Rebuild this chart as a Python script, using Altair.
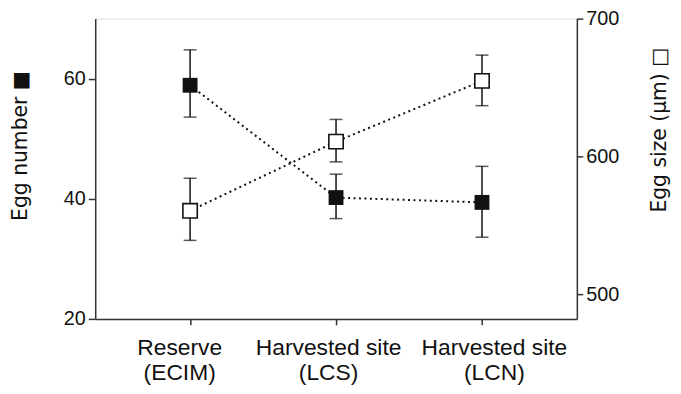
import altair as alt
import pandas as pd

sites = ["Reserve\n(ECIM)", "Harvested site\n(LCS)", "Harvested site\n(LCN)"]
egg_number = [58.9, 40.2, 39.4]
egg_number_lo = [53.6, 36.7, 33.6]
egg_number_hi = [64.8, 44.1, 45.4]
egg_size = [560.5, 610.7, 654.8]
egg_size_lo = [539.0, 596.0, 636.8]
egg_size_hi = [584.1, 626.8, 673.5]

df = pd.DataFrame({
    "site": sites,
    "n": egg_number, "n_lo": egg_number_lo, "n_hi": egg_number_hi,
    "s": egg_size, "s_lo": egg_size_lo, "s_hi": egg_size_hi,
})

FONT = "Liberation Sans"
TFONT = "DejaVu Sans"
AX = "#333333"
INK = "#111111"

label_shift = {
    "condition": [
        {"test": "indexof(datum.value, 'ECIM') >= 0", "value": -11},
        {"test": "indexof(datum.value, 'LCS') >= 0", "value": -8},
    ],
    "value": 12,
}

x = alt.X("site:N", sort=sites, title=None,
          scale=alt.Scale(type="point", padding=0.65),
          axis=alt.Axis(labelAngle=0, labelExpr="split(datum.label, '\\n')",
                        labelFontSize=23, labelLineHeight=25, labelPadding=12,
                        labelOffset=label_shift,
                        labelColor=INK, tickSize=6, tickColor=AX, domainColor=AX,
                        domainWidth=1.5, tickWidth=1.5, labelFont=FONT))

ny = alt.Scale(domain=[20, 70], nice=False, zero=False)
sy = alt.Scale(domain=[482, 700], nice=False, zero=False)

base = alt.Chart(df)

n_axis = alt.Axis(orient="left", values=[20, 40, 60], title="Egg number  ■",
                  titleAngle=270, titleX=-75, titleY=128, titleAlign="center",
                  titleBaseline="middle", titleFontSize=20.5, titleFontWeight="normal",
                  titleColor=INK, titleFont=TFONT, labelFont=FONT,
                  labelFontSize=20, labelColor=INK, labelPadding=3, tickSize=7,
                  tickColor=AX, domainColor=AX, domainWidth=1.5, tickWidth=1.5, grid=False)
s_axis = alt.Axis(orient="right", values=[500, 600, 700], title="Egg size (µm)  □",
                  titleAngle=270, titleX=83.5, titleY=112, titleAlign="center",
                  titleBaseline="middle", titleFontSize=20.5, titleFontWeight="normal",
                  titleColor=INK, titleFont=TFONT, labelFont=FONT,
                  labelFontSize=20, labelColor=INK, labelPadding=3, tickSize=6,
                  tickColor=AX, domainColor=AX, domainWidth=1.5, tickWidth=1.5, grid=False)

n_line = base.mark_line(color=INK, strokeWidth=2, strokeDash=[2, 3.5]).encode(
    x=x, y=alt.Y("n:Q", scale=ny, axis=n_axis))
n_rule = base.mark_rule(color=INK, strokeWidth=1.5).encode(
    x=x, y=alt.Y("n_lo:Q", scale=ny, axis=n_axis), y2="n_hi:Q")
n_cap_lo = base.mark_tick(color=INK, size=13, thickness=1.5).encode(
    x=x, y=alt.Y("n_lo:Q", scale=ny, axis=n_axis))
n_cap_hi = base.mark_tick(color=INK, size=13, thickness=1.5).encode(
    x=x, y=alt.Y("n_hi:Q", scale=ny, axis=n_axis))
n_pts = base.mark_square(size=225, filled=True, color=INK, opacity=1).encode(
    x=x, y=alt.Y("n:Q", scale=ny, axis=n_axis))
left = alt.layer(n_line, n_rule, n_cap_lo, n_cap_hi, n_pts)

s_line = base.mark_line(color=INK, strokeWidth=2, strokeDash=[2, 3.5]).encode(
    x=x, y=alt.Y("s:Q", scale=sy, axis=s_axis))
s_rule = base.mark_rule(color=INK, strokeWidth=1.5).encode(
    x=x, y=alt.Y("s_lo:Q", scale=sy, axis=s_axis), y2="s_hi:Q")
s_cap_lo = base.mark_tick(color=INK, size=13, thickness=1.5).encode(
    x=x, y=alt.Y("s_lo:Q", scale=sy, axis=s_axis))
s_cap_hi = base.mark_tick(color=INK, size=13, thickness=1.5).encode(
    x=x, y=alt.Y("s_hi:Q", scale=sy, axis=s_axis))
s_pts = base.mark_square(size=210, filled=True, fill="white", stroke=INK,
                         strokeWidth=1.6, opacity=1).encode(
    x=x, y=alt.Y("s:Q", scale=sy, axis=s_axis))
right = alt.layer(s_line, s_rule, s_cap_lo, s_cap_hi, s_pts)

chart = alt.layer(left, right).resolve_scale(y="independent").properties(
    width=486, height=303,
    autosize=alt.AutoSizeParams(type="none"),
    padding={"left": 88, "top": 9, "right": 97, "bottom": 66},
).configure_view(strokeWidth=0, strokeOpacity=0).configure(font=FONT, background="white")

chart.save("out.html", embed_options={"renderer": "svg", "actions": False})
